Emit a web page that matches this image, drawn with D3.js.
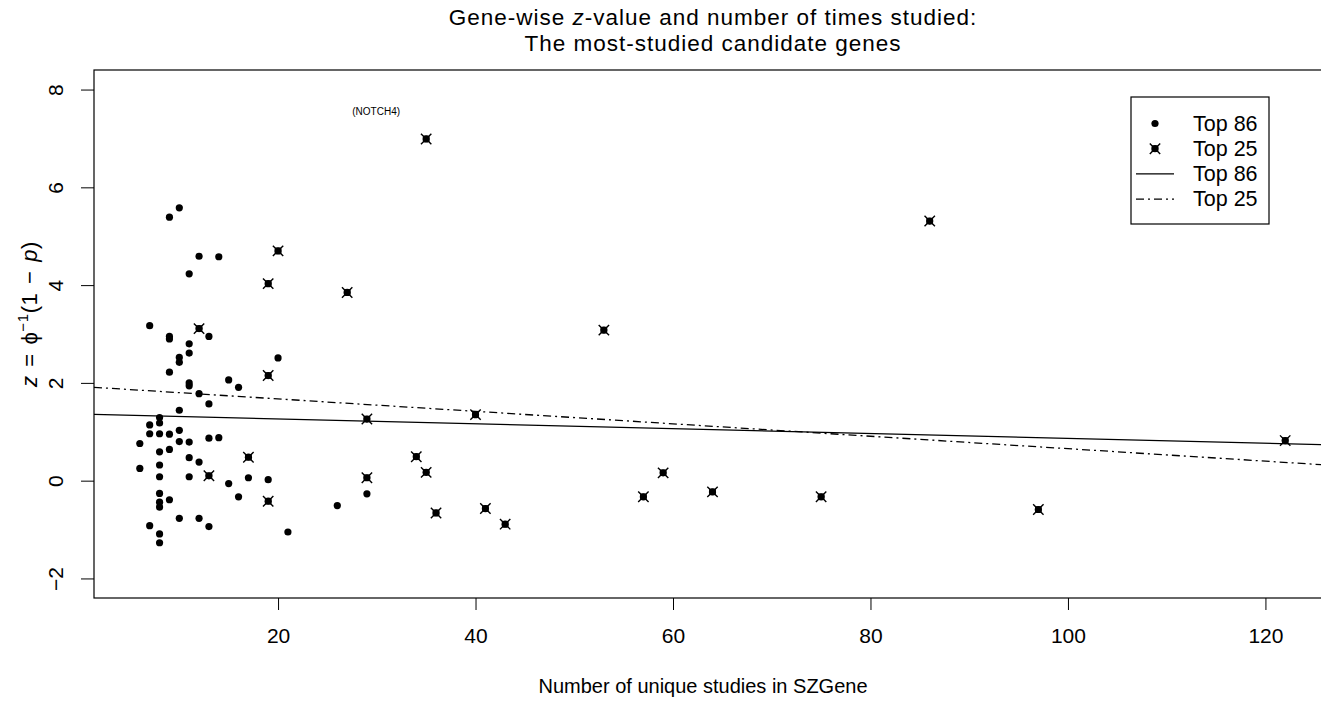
<!DOCTYPE html>
<html>
<head>
<meta charset="utf-8">
<script src="https://cdn.jsdelivr.net/npm/d3@7"></script>
<style>
  body { margin: 0; background: #fff; }
  svg { font-family: "Liberation Sans", Arial, Helvetica, sans-serif; }
</style>
</head>
<body>
<div id="chart"></div>
<script>
// Top 86 genes that are not in the top 25: [studies, z]
var top86Studies = [10, 9, 12, 14, 11, 7, 9, 9, 13, 11, 11, 10, 10, 20, 9, 11, 11, 15, 16, 12,
    13, 10, 8, 8, 7, 7, 8, 9, 10, 6, 8, 9, 10, 11, 13, 14, 11, 12, 6, 8,
    8, 11, 15, 17, 19, 8, 8, 8, 9, 16, 10, 12, 13, 7, 8, 8, 21, 29, 26];
var top86Z = [5.58, 5.39, 4.59, 4.58, 4.23, 3.17, 2.95, 2.90, 2.95, 2.80, 2.61, 2.52, 2.42, 2.51, 2.22, 2.00, 1.94, 2.06, 1.91, 1.78,
    1.57, 1.44, 1.29, 1.18, 1.14, 0.96, 0.96, 0.95, 1.03, 0.76, 0.59, 0.64, 0.80, 0.79, 0.87, 0.88, 0.47, 0.38, 0.25, 0.32,
    0.08, 0.08, -0.06, 0.06, 0.02, -0.26, -0.44, -0.54, -0.39, -0.33, -0.77, -0.77, -0.94, -0.92, -1.09, -1.27, -1.05, -0.27, -0.51];

// Top 25 most-studied genes
var top25Studies = [20, 19, 27, 12, 19, 29, 40, 17, 34, 35, 29, 13, 19, 36, 41, 43, 35, 53, 59, 57, 64, 75, 86, 97, 122];
var top25Z = [4.70, 4.03, 3.85, 3.11, 2.15, 1.26, 1.35, 0.48, 0.49, 0.17, 0.06, 0.10, -0.42, -0.66, -0.57, -0.89, 6.99, 3.08, 0.16, -0.33, -0.23, -0.33, 5.31, -0.59, 0.82];

// fitted lines: intercept, slope
var fitNames = ["Top 86", "Top 25"];
var fitIntercept = [1.361, 1.927];
var fitSlope = [-0.00496, -0.01273];

var xTicks = [20, 40, 60, 80, 100, 120];
var yTicks = [-2, 0, 2, 4, 6, 8];
var labelGene = "(NOTCH4)";

var svg = d3.select("#chart")
        .append("svg")
        .attr("width", 1321)
        .attr("height", 701),
    margin = {top: 70, right: -10, bottom: 103, left: 94},
    width = 1321 - margin.left - margin.right,
    height = 701 - margin.top - margin.bottom,
    g = svg.append("g").attr("transform", "translate(" + margin.left + "," + margin.top + ")");

var x = d3.scaleLinear()
    .domain([1.36, 126.64])
    .range([0, width]);
var y = d3.scaleLinear()
    .domain([-2.4, 8.4])
    .range([height, 0]);

g.append("clipPath")
    .attr("id", "clip-main")
    .append("rect")
    .attr("width", width)
    .attr("height", height);

// axes
var xAxis = g.append("g")
    .attr("transform", "translate(0," + height + ")")
    .call(d3.axisBottom(x).tickValues(xTicks).tickSize(12).tickPadding(18).tickSizeOuter(0));
var yAxis = g.append("g")
    .call(d3.axisLeft(y).tickValues(yTicks).tickSize(13).tickSizeOuter(0));

[xAxis, yAxis].forEach(function(a) {
    a.select(".domain").remove();
    a.selectAll("line").attr("stroke", "#000");
    a.selectAll("text").attr("fill", "#000").style("font-size", "21px");
});

yAxis.selectAll("text")
    .attr("text-anchor", "middle")
    .attr("x", null)
    .attr("dy", null)
    .attr("transform", "translate(-31,0) rotate(-90)")
    .attr("y", 0);

// fitted lines
var dashes = [null, "8,4,2,4"];
fitNames.forEach(function(name, i) {
    var x0 = x.domain()[0], x1 = x.domain()[1];
    g.append("line")
        .attr("clip-path", "url(#clip-main)")
        .attr("x1", x(x0))
        .attr("y1", y(fitIntercept[i] + fitSlope[i] * x0))
        .attr("x2", x(x1))
        .attr("y2", y(fitIntercept[i] + fitSlope[i] * x1))
        .attr("stroke", "#000")
        .attr("stroke-width", 1.3)
        .attr("stroke-dasharray", dashes[i]);
});

// points
function drawDot(sel, cx, cy) {
    sel.append("circle").attr("cx", cx).attr("cy", cy).attr("r", 3.6).attr("fill", "#000");
}
function drawStar(sel, cx, cy) {
    drawDot(sel, cx, cy);
    var s = 5.2;
    sel.append("path")
        .attr("d", "M" + (cx - s) + "," + (cy - s) + "L" + (cx + s) + "," + (cy + s) +
            "M" + (cx - s) + "," + (cy + s) + "L" + (cx + s) + "," + (cy - s))
        .attr("stroke", "#000")
        .attr("stroke-width", 1.4);
    sel.append("rect").attr("x", cx - 3.2).attr("y", cy - 3.2).attr("width", 6.4).attr("height", 6.4).attr("fill", "#000");
}

var pts = g.append("g").attr("clip-path", "url(#clip-main)");
top86Studies.forEach(function(s, i) { drawDot(pts, x(s), y(top86Z[i])); });
top25Studies.forEach(function(s, i) { drawStar(pts, x(s), y(top25Z[i])); });

// gene label above the highest point
var iMax = d3.maxIndex(top25Z);
g.append("text")
    .attr("x", x(top25Studies[iMax]) - 50)
    .attr("y", y(top25Z[iMax]) - 24)
    .attr("text-anchor", "middle")
    .style("font-size", "10px")
    .text(labelGene);

// box
g.append("rect")
    .attr("width", width)
    .attr("height", height)
    .attr("fill", "none")
    .attr("stroke", "#000")
    .attr("stroke-width", 1.2);

// legend
var leg = svg.append("g").attr("transform", "translate(1131,97)");
leg.append("rect")
    .attr("width", 138)
    .attr("height", 127)
    .attr("fill", "#fff")
    .attr("stroke", "#000")
    .attr("stroke-width", 1.2);
var legLabels = ["Top 86", "Top 25", "Top 86", "Top 25"];
legLabels.forEach(function(lbl, i) {
    var ly = 26.5 + i * 25.2;
    if (i == 0) drawDot(leg, 24, ly);
    if (i == 1) drawStar(leg, 24, ly);
    if (i >= 2) {
        leg.append("line")
            .attr("x1", 5).attr("x2", 43)
            .attr("y1", ly).attr("y2", ly)
            .attr("stroke", "#000")
            .attr("stroke-width", 1.3)
            .attr("stroke-dasharray", dashes[i - 2]);
    }
    leg.append("text")
        .attr("x", 62)
        .attr("y", ly + 7)
        .style("font-size", "21.5px")
        .text(lbl);
});

// title
var title = svg.append("text")
    .attr("x", 713)
    .attr("text-anchor", "middle")
    .style("font-size", "22.5px")
    .style("letter-spacing", "1px");
title.append("tspan").attr("x", 713).attr("y", 25).text("Gene-wise ")
    .append("tspan").style("font-style", "italic").text("z");
title.select("tspan").append("tspan").text("-value and number of times studied:");
title.append("tspan").attr("x", 713).attr("y", 51).text("The most-studied candidate genes");

// x axis title
svg.append("text")
    .attr("x", 703)
    .attr("y", 693)
    .attr("text-anchor", "middle")
    .style("font-size", "20px")
    .text("Number of unique studies in SZGene");

// y axis title
var yl = svg.append("text")
    .attr("transform", "translate(37,314) rotate(-90)")
    .attr("text-anchor", "middle")
    .style("font-size", "22px")
    .style("letter-spacing", "0.6px")
    .style("word-spacing", "2px");
yl.append("tspan").style("font-style", "italic").text("z");
yl.append("tspan").text(" = \u03d5");
yl.append("tspan").attr("dy", -9).style("font-size", "15px").text("\u22121");
yl.append("tspan").attr("dy", 9).text("(1 \u2212 ");
yl.append("tspan").style("font-style", "italic").text("p");
yl.append("tspan").text(")");
</script>
</body>
</html>
